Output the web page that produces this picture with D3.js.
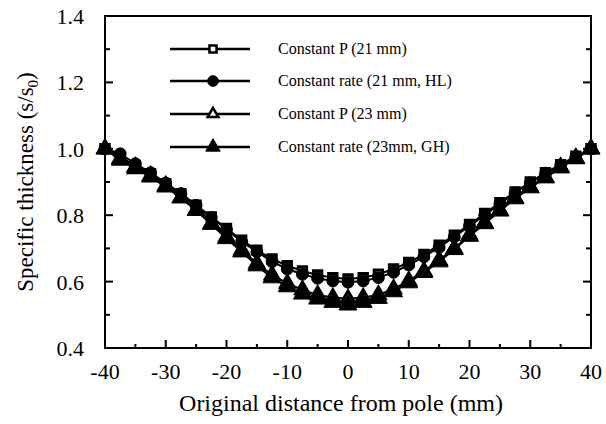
<!DOCTYPE html>
<html>
<head>
<meta charset="utf-8">
<script src="https://cdn.jsdelivr.net/npm/d3@7"></script>
<style>
  html, body { margin: 0; padding: 0; background: #fff; }
  svg { display: block; }
  text { font-family: "Liberation Serif", "DejaVu Serif", serif; fill: #000; }
</style>
</head>
<body>
<svg id="chart" width="606" height="424"></svg>
<script>
// Distance from pole (mm)
const distances = [-40, -37.5, -35, -32.5, -30, -27.5, -25, -22.5, -20, -17.5, -15, -12.5, -10, -7.5, -5, -2.5,
  0, 2.5, 5, 7.5, 10, 12.5, 15, 17.5, 20, 22.5, 25, 27.5, 30, 32.5, 35, 37.5, 40];

// Specific thickness s/s0 for each test
const constP21 = [1.00, 0.975, 0.95, 0.925, 0.895, 0.865, 0.83, 0.795, 0.76, 0.725, 0.695, 0.668, 0.648, 0.632, 0.62, 0.612,
  0.608, 0.612, 0.622, 0.638, 0.658, 0.682, 0.71, 0.74, 0.772, 0.805, 0.838, 0.87, 0.90, 0.928, 0.952, 0.978, 1.00];
const constRate21 = [1.00, 0.985, 0.955, 0.928, 0.897, 0.865, 0.83, 0.793, 0.757, 0.72, 0.69, 0.66, 0.638, 0.622, 0.61, 0.602,
  0.598, 0.602, 0.612, 0.628, 0.65, 0.675, 0.703, 0.735, 0.768, 0.80, 0.834, 0.867, 0.897, 0.925, 0.95, 0.975, 1.00];
const constP23 = [1.00, 0.965, 0.94, 0.915, 0.885, 0.852, 0.815, 0.775, 0.735, 0.695, 0.655, 0.62, 0.595, 0.575, 0.56, 0.552,
  0.548, 0.552, 0.56, 0.578, 0.602, 0.632, 0.665, 0.70, 0.74, 0.778, 0.815, 0.852, 0.885, 0.915, 0.945, 0.97, 1.00];
const constRate23 = [1.00, 0.97, 0.945, 0.918, 0.888, 0.853, 0.815, 0.773, 0.73, 0.69, 0.648, 0.612, 0.585, 0.563, 0.548, 0.538,
  0.53, 0.538, 0.55, 0.57, 0.597, 0.628, 0.66, 0.697, 0.737, 0.775, 0.813, 0.85, 0.883, 0.913, 0.943, 0.972, 1.00];

const seriesNames = ["Constant P (21 mm)", "Constant rate (21 mm, HL)", "Constant P (23 mm)", "Constant rate (23mm, GH)"];
const xTicks = [-40, -30, -20, -10, 0, 10, 20, 30, 40];
const yTicks = [0.4, 0.6, 0.8, 1.0, 1.2, 1.4];

const series = [
  { name: seriesNames[0], values: constP21, shape: d3.symbolSquare, size: 70, open: true },
  { name: seriesNames[1], values: constRate21, shape: d3.symbolCircle, size: 110, open: false },
  { name: seriesNames[2], values: constP23, shape: d3.symbolTriangle, size: 80, open: true },
  { name: seriesNames[3], values: constRate23, shape: d3.symbolTriangle, size: 140, open: false }
];

const svg = d3.select("#chart");
const m = { left: 105, right: 15, top: 16, bottom: 76 };
const W = 606, H = 424;

const x = d3.scaleLinear().domain([-40, 40]).range([m.left, W - m.right]);
const y = d3.scaleLinear().domain([0.4, 1.4]).range([H - m.bottom, m.top]);

// Frame
svg.append("rect")
  .attr("x", x(-40)).attr("y", y(1.4))
  .attr("width", x(40) - x(-40)).attr("height", y(0.4) - y(1.4))
  .attr("fill", "none").attr("stroke", "#000").attr("stroke-width", 2);

// Inward ticks: major and minor on bottom, left and right
const minorX = d3.range(-35, 40, 10);
const minorY = d3.range(0.5, 1.4, 0.2);

const tickG = svg.append("g").attr("stroke", "#000").attr("stroke-width", 2);
xTicks.slice(1, -1).forEach(v => tickG.append("line").attr("x1", x(v)).attr("x2", x(v)).attr("y1", y(0.4)).attr("y2", y(0.4) - 8));
minorX.forEach(v => tickG.append("line").attr("x1", x(v)).attr("x2", x(v)).attr("y1", y(0.4)).attr("y2", y(0.4) - 4));
yTicks.slice(1, -1).forEach(v => {
  tickG.append("line").attr("x1", x(-40)).attr("x2", x(-40) + 8).attr("y1", y(v)).attr("y2", y(v));
  tickG.append("line").attr("x1", x(40)).attr("x2", x(40) - 8).attr("y1", y(v)).attr("y2", y(v));
});
minorY.forEach(v => {
  tickG.append("line").attr("x1", x(-40)).attr("x2", x(-40) + 5).attr("y1", y(v)).attr("y2", y(v));
  tickG.append("line").attr("x1", x(40)).attr("x2", x(40) - 5).attr("y1", y(v)).attr("y2", y(v));
});

// Tick labels
svg.append("g").selectAll("text").data(xTicks).join("text")
  .attr("x", d => x(d)).attr("y", y(0.4) + 31)
  .attr("text-anchor", "middle").attr("font-size", 22)
  .text(d => d);
svg.append("g").selectAll("text").data(yTicks).join("text")
  .attr("x", x(-40) - 21).attr("y", d => y(d) + 8)
  .attr("text-anchor", "end").attr("font-size", 22)
  .text(d => d.toFixed(1));

// Axis titles
svg.append("text")
  .attr("x", 341).attr("y", 411)
  .attr("text-anchor", "middle").attr("font-size", 24)
  .text("Original distance from pole (mm)");

const yTitle = svg.append("text")
  .attr("transform", `translate(33, ${(y(0.4) + y(1.4)) / 2}) rotate(-90)`)
  .attr("text-anchor", "middle").attr("font-size", 23);
yTitle.append("tspan").text("Specific thickness (s/s");
yTitle.append("tspan").attr("font-size", 15).attr("dy", 5).text("0");
yTitle.append("tspan").attr("dy", -5).text(")");

// Curves and markers
const line = d3.line().x((d, i) => x(distances[i])).y(d => y(d));
const sym = s => d3.symbol().type(s.shape).size(s.size)();

series.forEach(s => {
  svg.append("path").datum(s.values)
    .attr("d", line).attr("fill", "none")
    .attr("stroke", "#000").attr("stroke-width", 2);
});
series.forEach(s => {
  svg.append("g").selectAll("path").data(s.values).join("path")
    .attr("transform", (d, i) => `translate(${x(distances[i])},${y(d)})`)
    .attr("d", sym(s))
    .attr("fill", s.open ? "#fff" : "#000")
    .attr("stroke", "#000").attr("stroke-width", s.open ? 3 : 1);
});

// Legend
const legendY = [49, 81, 114, 147];
const leg = svg.append("g");
series.forEach((s, i) => {
  leg.append("line").attr("x1", 170).attr("x2", 250)
    .attr("y1", legendY[i]).attr("y2", legendY[i])
    .attr("stroke", "#000").attr("stroke-width", 2.5);
  leg.append("path")
    .attr("transform", `translate(213,${legendY[i]})`)
    .attr("d", d3.symbol().type(s.shape).size(s.open ? 50 : 90)())
    .attr("fill", s.open ? "#fff" : "#000")
    .attr("stroke", "#000").attr("stroke-width", s.open ? 2.5 : 1);
  leg.append("text").attr("x", 278).attr("y", legendY[i] + 5)
    .attr("font-size", 16).text(s.name);
});
</script>
</body>
</html>
